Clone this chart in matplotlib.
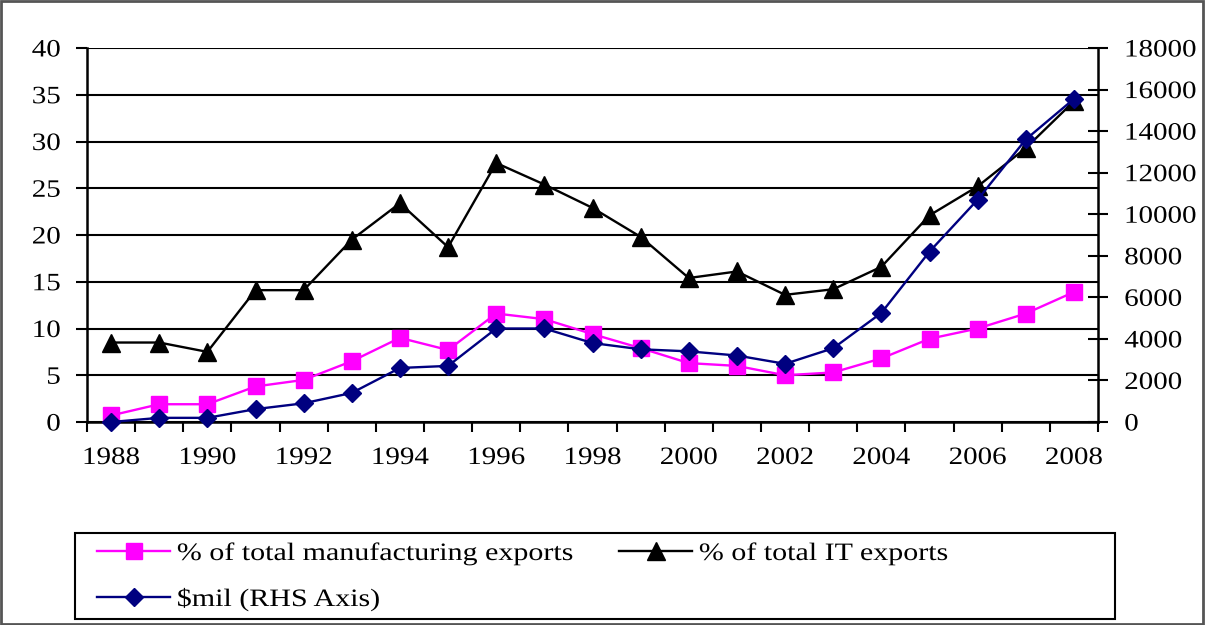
import matplotlib
matplotlib.use("Agg")
import matplotlib.pyplot as plt
from matplotlib.patheffects import AbstractPathEffect
from matplotlib.transforms import Affine2D
from matplotlib.patches import Rectangle

# ---- data -------------------------------------------------------------
years = [1988, 1989, 1990, 1991, 1992, 1993, 1994, 1995, 1996, 1997, 1998,
         1999, 2000, 2001, 2002, 2003, 2004, 2005, 2006, 2007, 2008]
year_labels = ["1988", "1990", "1992", "1994", "1996", "1998",
               "2000", "2002", "2004", "2006", "2008"]
manuf_pct = [0.7, 1.9, 1.9, 3.8, 4.5, 6.5, 9.0, 7.7, 11.6, 11.0, 9.4,
             7.9, 6.3, 6.0, 5.0, 5.3, 6.8, 8.9, 10.0, 11.6, 13.9]
it_pct = [8.5, 8.5, 7.5, 14.1, 14.1, 19.5, 23.4, 18.7, 27.7, 25.4, 22.9,
          19.8, 15.4, 16.1, 13.6, 14.2, 16.6, 22.1, 25.2, 29.3, 34.3]
usd_mil = [0, 200, 200, 620, 900, 1400, 2600, 2700, 4500, 4500, 3800,
           3500, 3400, 3200, 2800, 3550, 5250, 8200, 10700, 13600, 15550]
left_ticks = [0, 5, 10, 15, 20, 25, 30, 35, 40]
right_ticks = [0, 2000, 4000, 6000, 8000, 10000, 12000, 14000, 16000, 18000]
labels = ["% of total manufacturing exports", "% of total IT exports",
          r"\$mil (RHS Axis)"]


class HStretch(AbstractPathEffect):
    """Widen glyphs horizontally about the left/centre/right of the text."""

    def __init__(self, sx, anchor="center"):
        super().__init__()
        self.sx = sx
        self.anchor = anchor

    def draw_path(self, renderer, gc, tpath, affine, rgbFace=None):
        ext = tpath.get_extents()
        if self.anchor == "left":
            cx = ext.x0
        elif self.anchor == "right":
            cx = ext.x1
        else:
            cx = 0.5 * (ext.x0 + ext.x1)
        t = Affine2D().translate(-cx, 0).scale(self.sx, 1).translate(cx, 0)
        renderer.draw_path(gc, tpath, t + affine, rgbFace)


plt.rcParams["font.family"] = ["Liberation Serif", "DejaVu Serif"]
FS = 18
SX_TICK = 1.16
SX_LEG = 1.2
W, H = 1205, 625

fig = plt.figure(figsize=(W / 100, H / 100), dpi=100)
ax = fig.add_axes([87 / W, 1 - 422 / H, (1098 - 87) / W, (422 - 48) / H])
ax2 = ax.twinx()

l_manuf, = ax.plot(years, manuf_pct, color="#FF00FF", lw=1.7, marker="s",
                   ms=11, clip_on=False, zorder=3)
l_it, = ax.plot(years, it_pct, color="black", lw=1.7, marker="^",
                ms=12.5, clip_on=False, zorder=3)
l_usd, = ax2.plot(years, usd_mil, color="#000080", lw=1.7, marker="D",
                  ms=9, clip_on=False, zorder=3)

ax.set_xlim(years[0] - 0.5, years[-1] + 0.5)
ax.set_ylim(left_ticks[0], left_ticks[-1])
ax2.set_ylim(right_ticks[0], right_ticks[-1])

ax.set_yticks(left_ticks)
ax2.set_yticks(right_ticks)
ax.grid(axis="y", color="black", lw=1.5)
ax.set_axisbelow(True)

# category boundaries carry the tick marks, labels sit on the categories
ax.set_xticks([y - 0.5 for y in years] + [years[-1] + 0.5])
ax.set_xticklabels([])
ax.set_xticks(years[::2], year_labels, minor=True)
ax.tick_params(axis="x", which="major", direction="out", length=7, width=1.5)
ax.tick_params(axis="x", which="minor", length=0, pad=18, labelsize=FS)
ax.tick_params(axis="y", direction="out", length=8, width=1.5, pad=11,
               labelsize=FS)
ax2.tick_params(axis="y", direction="inout", length=14, width=1.5, pad=12,
                labelsize=FS)

for a in (ax, ax2):
    a.spines["top"].set_visible(False)
ax.spines["right"].set_visible(False)
ax2.spines["left"].set_visible(False)
ax2.spines["bottom"].set_visible(False)
ax.spines["left"].set_linewidth(1.8)
ax.spines["bottom"].set_linewidth(1.8)
ax2.spines["right"].set_linewidth(1.8)

for t in ax.yaxis.get_major_ticks():
    t.label1.set_path_effects([HStretch(SX_TICK, "right")])
for t in ax2.yaxis.get_major_ticks():
    t.label2.set_path_effects([HStretch(SX_TICK, "left")])
for t in ax.xaxis.get_minor_ticks():
    t.label1.set_path_effects([HStretch(SX_TICK, "center")])

# ---- legend -------------------------------------------------------------
fs_px = FS * 100 / 72
handles = [l_manuf, l_usd, l_it]
leg_labels = [labels[0], labels[2], labels[1]]
leg_kw = dict(ncol=2, frameon=False, loc="upper left",
              bbox_to_anchor=(97 / W, 1 - 542 / H),
              bbox_transform=fig.transFigure, fontsize=FS, borderpad=0,
              borderaxespad=0, handlelength=73 / fs_px,
              handletextpad=7 / fs_px, labelspacing=0.9)
leg = fig.legend(handles, leg_labels, columnspacing=5, **leg_kw)
fig.canvas.draw()
r = fig.canvas.get_renderer()
w0 = leg.get_texts()[0].get_window_extent(r).width
leg.remove()
col_sp = (619 - (97 + 73 + 7 + w0)) / fs_px
leg = fig.legend(handles, leg_labels, columnspacing=col_sp, **leg_kw)
for t in leg.get_texts():
    t.set_path_effects([HStretch(SX_LEG, "left")])

fig.add_artist(Rectangle((75 / W, 1 - 619 / H), 1040 / W, 86 / H,
                         transform=fig.transFigure, fill=False,
                         edgecolor="black", lw=1.5))
fig.add_artist(Rectangle((0.001, 0.002), 0.997, 0.996,
                         transform=fig.transFigure, fill=False,
                         edgecolor="#555555", lw=2))

fig.savefig("out.png", dpi=100)
